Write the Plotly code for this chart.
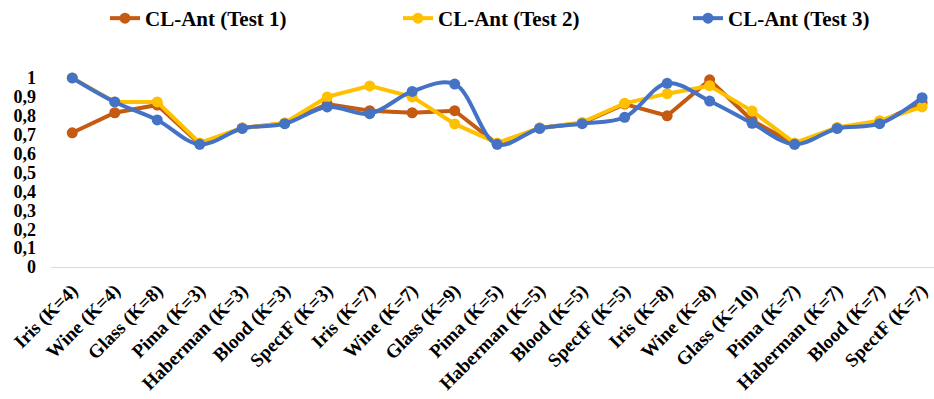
import plotly.graph_objects as go

# Datasets (with number of clusters K) along the x axis
categories = [
    "Iris (K=4)", "Wine (K=4)", "Glass (K=8)", "Pima (K=3)", "Haberman (K=3)",
    "Blood (K=3)", "SpectF (K=3)", "Iris (K=7)", "Wine (K=7)", "Glass (K=9)",
    "Pima (K=5)", "Haberman (K=5)", "Blood (K=5)", "SpectF (K=5)", "Iris (K=8)",
    "Wine (K=8)", "Glass (K=10)", "Pima (K=7)", "Haberman (K=7)", "Blood (K=7)",
    "SpectF (K=7)",
]

test1 = [0.71, 0.816, 0.857, 0.651, 0.735, 0.76, 0.862, 0.827, 0.816, 0.827,
         0.651, 0.735, 0.762, 0.862, 0.80, 0.99, 0.775, 0.651, 0.735, 0.765, 0.87]
test2 = [1.0, 0.873, 0.873, 0.656, 0.735, 0.762, 0.90, 0.958, 0.90, 0.757,
         0.656, 0.735, 0.765, 0.866, 0.917, 0.959, 0.825, 0.656, 0.738, 0.774, 0.847]
test3 = [1.0, 0.873, 0.778, 0.649, 0.733, 0.758, 0.847, 0.811, 0.929, 0.968,
         0.649, 0.733, 0.758, 0.792, 0.972, 0.878, 0.76, 0.649, 0.733, 0.758, 0.896]

series_names = ["CL-Ant (Test 1)", "CL-Ant (Test 2)", "CL-Ant (Test 3)"]
series_colors = ["#C55A11", "#FFC000", "#4472C4"]
series_shapes = ["linear", "linear", "spline"]
legend_ids = ["legend", "legend2", "legend3"]
legend_x = [105, 398, 688]  # left edge of each legend box, px

ytick_values = [0, 0.1, 0.2, 0.3, 0.4, 0.5, 0.6, 0.7, 0.8, 0.9, 1]
ytick_labels = ["0", "0,1", "0,2", "0,3", "0,4", "0,5", "0,6", "0,7", "0,8", "0,9", "1"]

FONT = "Liberation Serif"
W, H = 934, 399
ML, MR, MT, MB = 51, 0, 50, 132
PW, PH = W - ML - MR, H - MT - MB

fig = go.Figure()
for name, vals, color, shape, lid in zip(series_names, [test1, test2, test3],
                                         series_colors, series_shapes, legend_ids):
    fig.add_trace(go.Scatter(
        x=list(range(len(categories))), y=vals, name=name, legend=lid,
        mode="lines+markers",
        line=dict(color=color, width=4, shape=shape, smoothing=1.0),
        marker=dict(color=color, size=11),
    ))

legend_style = dict(
    orientation="h", y=1 + (MT + 2) / PH, xanchor="left", yanchor="top",
    xref="paper", yref="paper",
    font=dict(family=FONT, size=21, color="black", weight="bold"),
    bgcolor="rgba(0,0,0,0)",
)
legends = {lid: dict(legend_style, x=(lx - ML) / PW) for lid, lx in zip(legend_ids, legend_x)}

fig.update_layout(
    width=W, height=H,
    margin=dict(l=ML, r=MR, t=MT, b=MB, autoexpand=False),
    paper_bgcolor="white", plot_bgcolor="white",
    font=dict(family=FONT, color="black", weight="bold"),
    showlegend=True,
    **legends,
    xaxis=dict(
        range=[-0.5, 20.28],
        tickmode="array", tickvals=list(range(len(categories))), ticktext=categories,
        tickangle=-45, tickfont=dict(family=FONT, size=19, color="black", weight="bold"),
        showgrid=False, zeroline=False, showline=True, linecolor="#D9D9D9", linewidth=1,
        ticks="", ticklabelstandoff=4,
    ),
    yaxis=dict(
        range=[0, 1.148],
        tickmode="array", tickvals=ytick_values, ticktext=ytick_labels,
        tickfont=dict(family=FONT, size=18, color="black", weight="bold"),
        showgrid=False, zeroline=False, showline=False, ticks="",
        ticklabelstandoff=14,
    ),
)

fig.write_html("out.html")
